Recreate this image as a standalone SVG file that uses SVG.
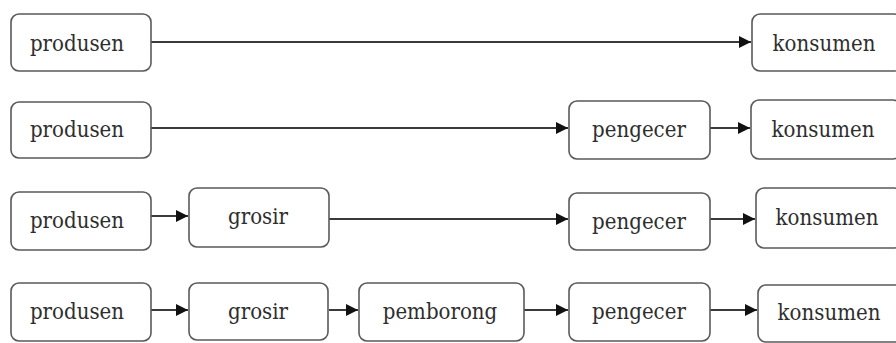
<svg xmlns="http://www.w3.org/2000/svg" width="896" height="343" viewBox="0 0 896 343">
<defs>
<style>
.box{fill:#fff;stroke:#5a5a5a;stroke-width:1.6}
.lbl{font-family:'DejaVu Serif Condensed','DejaVu Serif',serif;font-stretch:condensed;font-size:22px;fill:#2e2e2e;text-anchor:middle}
.edge{stroke:#3a3a3a;stroke-width:2;fill:none;marker-end:url(#ah)}
</style>
<marker id="ah" viewBox="0 0 10 10" refX="10" refY="5" markerWidth="6" markerHeight="6.2" markerUnits="strokeWidth" orient="auto">
<path d="M0,0 L10,5 L0,10 z" fill="#111"/>
</marker>
</defs>
<rect width="896" height="343" fill="#fff"/>
<g id="connectors">
<line class="edge" x1="151" y1="42" x2="751" y2="42"/>
<line class="edge" x1="151" y1="128" x2="568" y2="128"/>
<line class="edge" x1="710" y1="128" x2="750" y2="128"/>
<line class="edge" x1="151" y1="216" x2="188" y2="216"/>
<line class="edge" x1="329" y1="219" x2="568" y2="219"/>
<line class="edge" x1="710" y1="219" x2="755" y2="219"/>
<line class="edge" x1="151" y1="310" x2="188" y2="310"/>
<line class="edge" x1="329" y1="310" x2="358" y2="310"/>
<line class="edge" x1="524" y1="310" x2="568" y2="310"/>
<line class="edge" x1="710" y1="310" x2="757" y2="310"/>
</g>
<g id="r1-produsen"><rect class="box" x="11" y="14" width="140" height="57" rx="8"/><text class="lbl" x="77" y="51">produsen</text></g>
<g id="r1-konsumen"><rect class="box" x="752" y="14" width="150" height="57" rx="8"/><text class="lbl" x="824" y="51">konsumen</text></g>
<g id="r2-produsen"><rect class="box" x="11" y="102" width="140" height="56" rx="8"/><text class="lbl" x="77" y="137">produsen</text></g>
<g id="r2-pengecer"><rect class="box" x="569" y="101" width="141" height="58" rx="8"/><text class="lbl" x="639" y="137">pengecer</text></g>
<g id="r2-konsumen"><rect class="box" x="751" y="100" width="150" height="59" rx="8"/><text class="lbl" x="823" y="137">konsumen</text></g>
<g id="r3-produsen"><rect class="box" x="11" y="192" width="140" height="58" rx="8"/><text class="lbl" x="77" y="228">produsen</text></g>
<g id="r3-grosir"><rect class="box" x="189" y="188" width="140" height="59" rx="8"/><text class="lbl" x="258" y="224">grosir</text></g>
<g id="r3-pengecer"><rect class="box" x="569" y="193" width="141" height="57" rx="8"/><text class="lbl" x="639" y="229">pengecer</text></g>
<g id="r3-konsumen"><rect class="box" x="756" y="188" width="146" height="60" rx="8"/><text class="lbl" x="827" y="225">konsumen</text></g>
<g id="r4-produsen"><rect class="box" x="11" y="283" width="140" height="58" rx="8"/><text class="lbl" x="77" y="319">produsen</text></g>
<g id="r4-grosir"><rect class="box" x="189" y="283" width="139" height="57" rx="8"/><text class="lbl" x="258" y="319">grosir</text></g>
<g id="r4-pemborong"><rect class="box" x="359" y="283" width="165" height="58" rx="8"/><text class="lbl" x="440" y="319">pemborong</text></g>
<g id="r4-pengecer"><rect class="box" x="569" y="283" width="141" height="58" rx="8"/><text class="lbl" x="639" y="319">pengecer</text></g>
<g id="r4-konsumen"><rect class="box" x="758" y="285" width="146" height="57" rx="8"/><text class="lbl" x="829" y="320">konsumen</text></g>
</svg>
